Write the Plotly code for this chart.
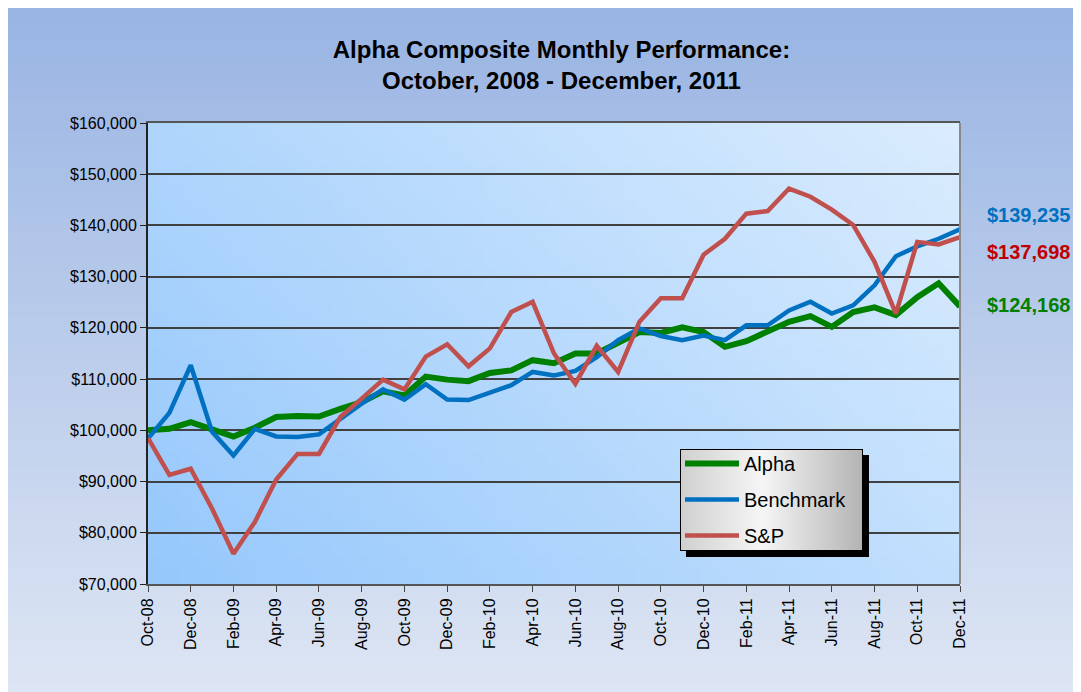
import base64
import struct
import zlib

import plotly.graph_objects as go

# ---------------- data ----------------
months = ["Oct-08", "Nov-08", "Dec-08", "Jan-09", "Feb-09", "Mar-09", "Apr-09", "May-09",
          "Jun-09", "Jul-09", "Aug-09", "Sep-09", "Oct-09", "Nov-09", "Dec-09", "Jan-10",
          "Feb-10", "Mar-10", "Apr-10", "May-10", "Jun-10", "Jul-10", "Aug-10", "Sep-10",
          "Oct-10", "Nov-10", "Dec-10", "Jan-11", "Feb-11", "Mar-11", "Apr-11", "May-11",
          "Jun-11", "Jul-11", "Aug-11", "Sep-11", "Oct-11", "Nov-11", "Dec-11"]

alpha = [100000, 100300, 101600, 100300, 98800, 100500, 102600, 102800, 102700, 104200,
         105500, 107600, 106800, 110500, 109900, 109600, 111200, 111700, 113700, 113100,
         115000, 115000, 117200, 119200, 119000, 120100, 119200, 116300, 117400, 119200,
         121200, 122300, 120200, 123100, 124000, 122500, 126000, 128700, 124168]

benchmark = [98400, 103400, 112700, 99700, 95100, 100300, 98800, 98700, 99200, 102300,
             105200, 108000, 106000, 109000, 106000, 105900, 107300, 108800, 111400, 110700,
             111600, 114300, 117600, 119900, 118400, 117600, 118500, 117600, 120500, 120500,
             123400, 125100, 122800, 124400, 128300, 134000, 135900, 137400, 139235]

sp = [98500, 91300, 92500, 84700, 75900, 82100, 90400, 95400, 95400, 102600,
      106200, 109900, 108000, 114400, 116800, 112500, 116000, 123100, 125100, 115000,
      109100, 116500, 111400, 121200, 125800, 125800, 134300, 137400, 142300, 142800,
      147200, 145600, 143100, 140100, 132900, 122800, 136800, 136300, 137698]

series_names = ["Alpha", "Benchmark", "S&P"]
x_tick_labels = months[::2]
y_ticks = [70000, 80000, 90000, 100000, 110000, 120000, 130000, 140000, 150000, 160000]

# ---------------- styling ----------------
FONT = "Liberation Sans, Arial, sans-serif"
colors = {"Alpha": "#008000", "Benchmark": "#0070C0", "S&P": "#C0504D"}
label_colors = {"Alpha": "#008000", "Benchmark": "#0070C0", "S&P": "#C00000"}
widths = {"Alpha": 6, "Benchmark": 4.5, "S&P": 4.5}

W, H = 1081, 692
ML, MR, MT, MB = 140, 129, 115, 116
PW, PH = W - ML - MR, H - MT - MB


def png_uri(w, h, fn):
    raw = bytearray()
    for yy in range(h):
        raw.append(0)
        for xx in range(w):
            raw.extend(fn(xx, yy))

    def chunk(t, d):
        c = struct.pack(">I", len(d)) + t + d
        return c + struct.pack(">I", zlib.crc32(t + d) & 0xFFFFFFFF)

    png = (b"\x89PNG\r\n\x1a\n"
           + chunk(b"IHDR", struct.pack(">IIBBBBB", w, h, 8, 6, 0, 0, 0))
           + chunk(b"IDAT", zlib.compress(bytes(raw), 9))
           + chunk(b"IEND", b""))
    return "data:image/png;base64," + base64.b64encode(png).decode()


def lerp(a, b, t):
    return tuple(int(round(a[i] + (b[i] - a[i]) * t)) for i in range(3))


# outer chart-area gradient (vertical)
top_c, bot_c = (154, 181, 227), (222, 230, 244)
outer_img = png_uri(4, 64, lambda x, y: lerp(top_c, bot_c, y / 63) + (255,))

# plot-area gradient (diagonal, dark at bottom-left)
c0, c1 = (150, 200, 252), (218, 236, 253)
gw, gh = 64, 40


def plot_px(x, y):
    t = ((x / (gw - 1)) * PW + (1 - y / (gh - 1)) * PH) / (PW + PH)
    return lerp(c0, c1, t) + (255,)


plot_img = png_uri(gw, gh, plot_px)

# legend box with shadow
LBX, LBY, LBW, LBH, SH = 672, 441, 183, 102, 6


def legend_px(x, y):
    if x < LBW and y < LBH:
        if x == 0 or y == 0 or x == LBW - 1 or y == LBH - 1:
            return (0, 0, 0, 255)
        s = x / (LBW - 1)
        if s < 0.45:
            g = 208 + (246 - 208) * (s / 0.45)
        else:
            g = 246 - (246 - 180) * ((s - 0.45) / 0.55)
        g = int(g)
        return (g, g, g, 255)
    if SH <= x < LBW + SH and SH <= y < LBH + SH:
        return (0, 0, 0, 255)
    return (0, 0, 0, 0)


legend_img = png_uri(LBW + SH, LBH + SH, legend_px)

# ---------------- figure ----------------
fig = go.Figure()
for name, vals in zip(series_names, [alpha, benchmark, sp]):
    fig.add_trace(go.Scatter(
        x=months, y=vals, mode="lines", name=name, legendgroup=name,
        line=dict(color=colors[name], width=widths[name]),
    ))

fig.add_layout_image(dict(source=outer_img, xref="paper", yref="paper",
                          x=-ML / PW, y=1 + MT / PH, sizex=W / PW, sizey=H / PH,
                          xanchor="left", yanchor="top", sizing="stretch", layer="below"))
fig.add_layout_image(dict(source=plot_img, xref="paper", yref="paper", x=0, y=1,
                          sizex=1, sizey=1, xanchor="left", yanchor="top",
                          sizing="stretch", layer="below"))
fig.add_layout_image(dict(source=legend_img, xref="paper", yref="paper",
                          x=(LBX - ML) / PW, y=(MT + PH - LBY) / PH,
                          sizex=(LBW + SH) / PW, sizey=(LBH + SH) / PH,
                          xanchor="left", yanchor="top", sizing="stretch", layer="above"))

# right frame of plot area
fig.add_shape(type="line", xref="x domain", yref="y domain", x0=1, x1=1, y0=0, y1=1,
              line=dict(color="#8a8a8a", width=2))

# end-value labels
finals = {"Benchmark": benchmark[-1], "S&P": sp[-1], "Alpha": alpha[-1]}
shifts = {"Benchmark": 14, "S&P": -15, "Alpha": 2}
for name, v in finals.items():
    fig.add_annotation(x=(977 - ML) / PW, xref="paper", y=v, yref="y", yshift=shifts[name],
                       text=f"<b>${v:,.0f}</b>", showarrow=False, xanchor="left",
                       font=dict(family=FONT, size=20, color=label_colors[name]))

fig.update_layout(
    width=W, height=H,
    margin=dict(l=ML, r=MR, t=MT, b=MB),
    paper_bgcolor="white",
    plot_bgcolor="rgba(0,0,0,0)",
    font=dict(family=FONT, color="black"),
    title=dict(text="<b>Alpha Composite Monthly Performance:<br>October, 2008 - December, 2011</b>",
               x=0.512, xanchor="center", y=0.928, yanchor="top",
               font=dict(family=FONT, size=24, color="black")),
    showlegend=True,
    legend=dict(x=(LBX - ML) / PW, y=(MT + PH - LBY + 5) / PH, xanchor="left", yanchor="top",
                bgcolor="rgba(0,0,0,0)", borderwidth=0, itemwidth=54,
                tracegroupgap=7, traceorder="grouped",
                font=dict(family=FONT, size=20, color="black")),
    xaxis=dict(type="category", range=[0, len(months) - 1], tickmode="array",
               tickvals=x_tick_labels, ticktext=x_tick_labels, tickangle=-90,
               ticks="outside", ticklen=6, tickcolor="#444", showgrid=False,
               showline=True, linecolor="#555", linewidth=2, mirror=True,
               tickfont=dict(family=FONT, size=16, color="black")),
    yaxis=dict(range=[70000, 160000], tickmode="array", tickvals=y_ticks,
               tickformat="$,.0f", ticks="outside", ticklen=6, tickcolor="#222",
               showgrid=True, gridcolor="#404040", gridwidth=1.5,
               showline=True, linecolor="#222", linewidth=2, zeroline=False,
               tickfont=dict(family=FONT, size=16, color="black")),
)

fig.write_html("out.html")
